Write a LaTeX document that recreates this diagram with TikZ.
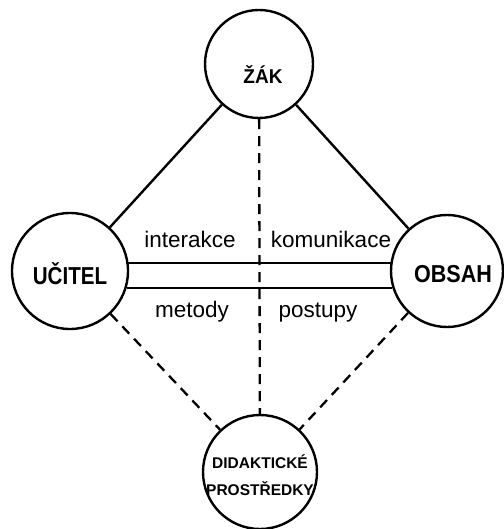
\documentclass[tikz,border=0pt]{standalone}
\usepackage{graphicx}
\usepackage{fontspec}
\setmainfont{Liberation Sans}
\usetikzlibrary{calc}
\begin{document}
\begin{tikzpicture}[x=1pt,y=-1pt,
  vertex/.style={circle,draw,line width=2.4pt,inner sep=0pt},
  solidlink/.style={line width=2.4pt},
  dashlink/.style={line width=2.3pt,dash pattern=on 10pt off 7pt},
  bigname/.style={inner sep=0pt,font=\bfseries\fontsize{24.5}{26}\selectfont},
  lbl/.style={inner sep=0pt,font=\fontsize{22.5}{24}\selectfont}]
\useasboundingbox (0,0) rectangle (503,529);
% the four poles
\node[vertex,minimum size=108pt] (zak) at (259,64) {};
\node[vertex,minimum size=116pt] (ucitel) at (70,271) {};
\node[vertex,minimum size=112pt] (obsah) at (447,271) {};
\node[vertex,minimum size=114pt] (prostr) at (260,472) {};
\node[inner sep=0pt,font=\bfseries\fontsize{20}{22}\selectfont] (zakname) at (263,75) {\scalebox{0.95}[1]{ŽÁK}};
\node[bigname] (ucitelname) at (70,274) {\scalebox{0.84}[1]{UČITEL}};
\node[bigname] (obsahname) at (453,274) {\scalebox{0.88}[1]{OBSAH}};
\node[inner sep=0pt,align=center,font=\bfseries\fontsize{15.5}{27}\selectfont] (prostrname) at (260,475) {DIDAKTICKÉ\\PROSTŘEDKY};
% solid links from the pupil
\draw[solidlink] (zak) -- (ucitel);
\draw[solidlink] (zak) -- (obsah);
% double bar between teacher and content
\coordinate (a1) at (ucitel.east |- 0,263);
\coordinate (b1) at (obsah.west |- 0,263);
\coordinate (a2) at (ucitel.east |- 0,288);
\coordinate (b2) at (obsah.west |- 0,288);
\draw[line width=2.8pt] ($(a1)+(-2,0)$) -- ($(b1)+(2,0)$);
\draw[line width=2.8pt] ($(a2)+(-2,0)$) -- ($(b2)+(2,0)$);
% dashed links to the teaching aids
\draw[dashlink] (zak) -- (prostr);
\draw[dashlink] (ucitel) -- (prostr);
\draw[dashlink] (obsah) -- (prostr);
% labels along the bar
\node[lbl,anchor=base] (l1) at (190,247) {interakce};
\node[lbl,anchor=base] (l2) at (331,247) {komunikace};
\node[lbl,anchor=base] (l3) at (192,317) {metody};
\node[lbl,anchor=base] (l4) at (318,317) {postupy};
\end{tikzpicture}
\end{document}
